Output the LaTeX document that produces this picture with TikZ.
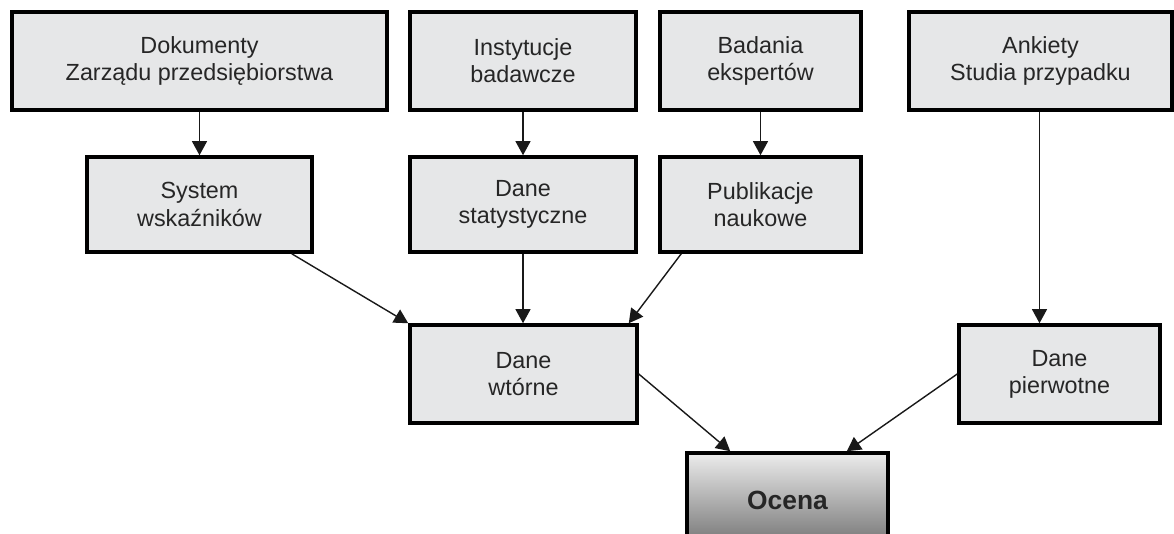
\documentclass[tikz,border=0pt]{standalone}
\usepackage{fontspec}
\setmainfont{Liberation Sans}
\usetikzlibrary{arrows.meta,calc}
\definecolor{boxgray}{RGB}{230,231,232}
\definecolor{topgray}{RGB}{236,236,236}
\definecolor{botgray}{RGB}{115,115,115}
\begin{document}
\begin{tikzpicture}[x=0.02cm, y=-0.02cm, >={Triangle[length=8pt,width=8.5pt]},
		box/.style={draw, line width=2pt, fill=boxgray, align=center, inner sep=0pt,
			font=\fontsize{13.3}{15.5}\selectfont, text=black!85},
		link/.style={->, line width=0.8pt, black!90}]
					\clip (0,0) rectangle (1174,534);
					\useasboundingbox (0,0) rectangle (1174,534);
					% top row
					\node[box, minimum width=375*0.02cm, minimum height=98*0.02cm] (dok) at (199.5,61) {Dokumenty\\Zarządu przedsiębiorstwa};
					\node[box, minimum width=226*0.02cm, minimum height=98*0.02cm] (inst) at (523,61) {Instytucje\\badawcze};
					\node[box, minimum width=201*0.02cm, minimum height=98*0.02cm] (bad) at (760.5,61) {Badania\\ekspertów};
					\node[box, minimum width=263*0.02cm, minimum height=98*0.02cm] (ank) at (1040.5,61) {Ankiety\\Studia przypadku};
					% second row
					\node[box, minimum width=225*0.02cm, minimum height=95*0.02cm] (sys) at (199.5,204.5) {System\\wskaźników};
					\node[box, minimum width=226*0.02cm, minimum height=95*0.02cm] (stat) at (523,204.5) {Dane\\statystyczne};
					\node[box, minimum width=201*0.02cm, minimum height=95*0.02cm] (pub) at (760.5,204.5) {Publikacje\\naukowe};
					% third row
					\node[box, minimum width=227*0.02cm, minimum height=98*0.02cm] (wt) at (523.5,374) {Dane\\wtórne};
					\node[box, minimum width=201*0.02cm, minimum height=98*0.02cm] (pier) at (1059.5,374) {Dane\\pierwotne};
					\node[box, top color=topgray, bottom color=botgray, minimum width=201*0.02cm, minimum height=94*0.02cm,
						font=\fontsize{15}{17}\selectfont\bfseries] (oc) at (787.5,500) {Ocena};
					% arrows
					\draw[link] (dok.south) -- (sys.north);
					\draw[link] (inst.south) -- (stat.north);
					\draw[link] (bad.south) -- (pub.north);
					\draw[link] ($(ank.south)+(-1,0)$) -- ($(ank.south |- pier.north)+(-1,0)$);
					\draw[link] ($(sys.south east)+(-22,0)$) -- (wt.north west);
					\draw[link] (stat.south) -- (stat.south |- wt.north);
					\draw[link] ($(pub.south west)+(23,0)$) -- ($(wt.north east)+(-10,0)$);
					\draw[link] (wt.east) -- ($(oc.north west)+(45,0)$);
					\draw[link] (pier.west) -- ($(oc.north east)+(-43,0)$);
				\end{tikzpicture}
\end{document}
